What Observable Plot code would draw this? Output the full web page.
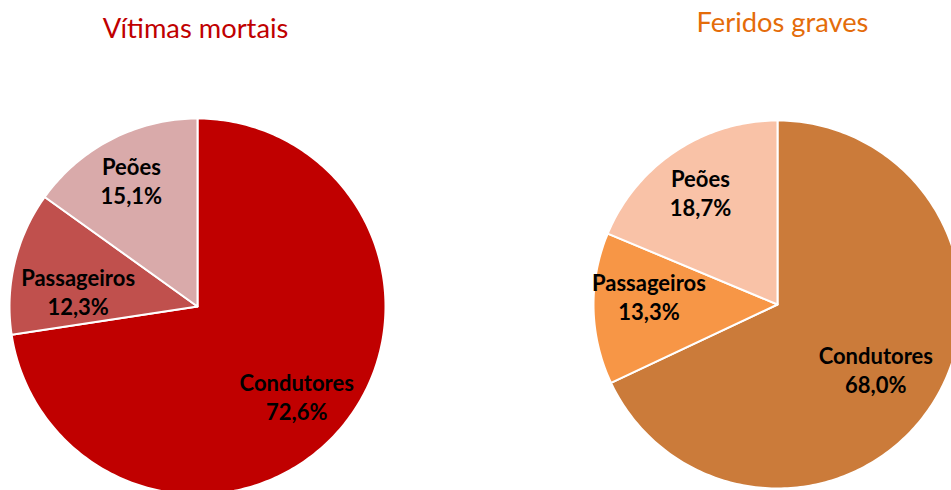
<!DOCTYPE html>
<html>
<head>
<meta charset="utf-8">
<script src="https://cdn.jsdelivr.net/npm/d3@7"></script>
<script src="https://cdn.jsdelivr.net/npm/@observablehq/plot@0.6"></script>
<style>
  html, body { margin: 0; padding: 0; background: #fff; overflow: hidden; }
</style>
</head>
<body>
<div id="chart"></div>
<script>
// ---- data ----
const categories = ["Condutores", "Passageiros", "Peões"];
const vitimasMortais = [72.6, 12.3, 15.1];
const feridosGraves = [68.0, 13.3, 18.7];
const titles = ["Vítimas mortais", "Feridos graves"];

// ---- styles / layout ----
const coresMortais = ["#C00000", "#C0504D", "#D9AAAA"];
const coresGraves = ["#CB7B3A", "#F79646", "#F9C2A7"];
const titleColors = ["#C00000", "#E46C0A"];
const W = 951, H = 490;
const pieLayout = [
  {cx: 197, cy: 306, r: 188, titleX: 195, titleY: 29,
   labelR: [0.71, 0.64, 0.76], labelTurn: [1.3, -6.3, -0.4]},
  {cx: 777, cy: 304, r: 184, titleX: 782, titleY: 23,
   labelR: [0.64, 0.70, 0.74], labelTurn: [1.0, 4.9, -0.8]}
];
const fontFamily = "Lato, 'Open Sans', sans-serif";

const seriesList = [vitimasMortais, feridosGraves];
const colorList = [coresMortais, coresGraves];

const slicePoints = [];
const labels = [];
const titleRows = [];
seriesList.forEach((values, p) => {
  const L = pieLayout[p];
  const arcs = d3.pie().sort(null)(values);
  arcs.forEach((a, i) => {
    const key = p + "-" + categories[i];
    const color = colorList[p][i];
    slicePoints.push({key, color, x: L.cx, y: L.cy});
    const n = Math.max(2, Math.ceil((a.endAngle - a.startAngle) / (Math.PI / 180)));
    for (let k = 0; k <= n; k++) {
      const t = a.startAngle + (a.endAngle - a.startAngle) * k / n;
      slicePoints.push({key, color, x: L.cx + L.r * Math.sin(t), y: L.cy - L.r * Math.cos(t)});
    }
    const mid = (a.startAngle + a.endAngle) / 2 + L.labelTurn[i] * Math.PI / 180;
    const lr = L.r * L.labelR[i];
    labels.push({
      x: L.cx + lr * Math.sin(mid),
      y: L.cy - lr * Math.cos(mid),
      text: categories[i] + "\n" + values[i].toFixed(1).replace(".", ",") + "%"
    });
  });
  titleRows.push({x: L.titleX, y: L.titleY, text: titles[p], color: titleColors[p]});
});

const chart = Plot.plot({
  width: W,
  height: H,
  margin: 0,
  x: {domain: [0, W], range: [0, W], axis: null},
  y: {domain: [0, H], range: [0, H], axis: null},
  color: {type: "identity"},
  style: {fontFamily, background: "#fff"},
  marks: [
    Plot.line(slicePoints, {
      x: "x", y: "y", z: "key", fill: "color",
      stroke: "white", strokeWidth: 2, strokeLinejoin: "round",
      curve: "linear-closed"
    }),
    Plot.text(labels, {
      x: "x", y: "y", text: "text",
      fill: "black", fontWeight: "bold", fontSize: 22,
      lineHeight: 29 / 22, fontFamily
    }),
    Plot.text(titleRows, {
      x: "x", y: "y", text: "text", fill: "color",
      fontSize: 27.3, fontFamily
    })
  ]
});
document.getElementById("chart").appendChild(chart);
</script>
</body>
</html>
